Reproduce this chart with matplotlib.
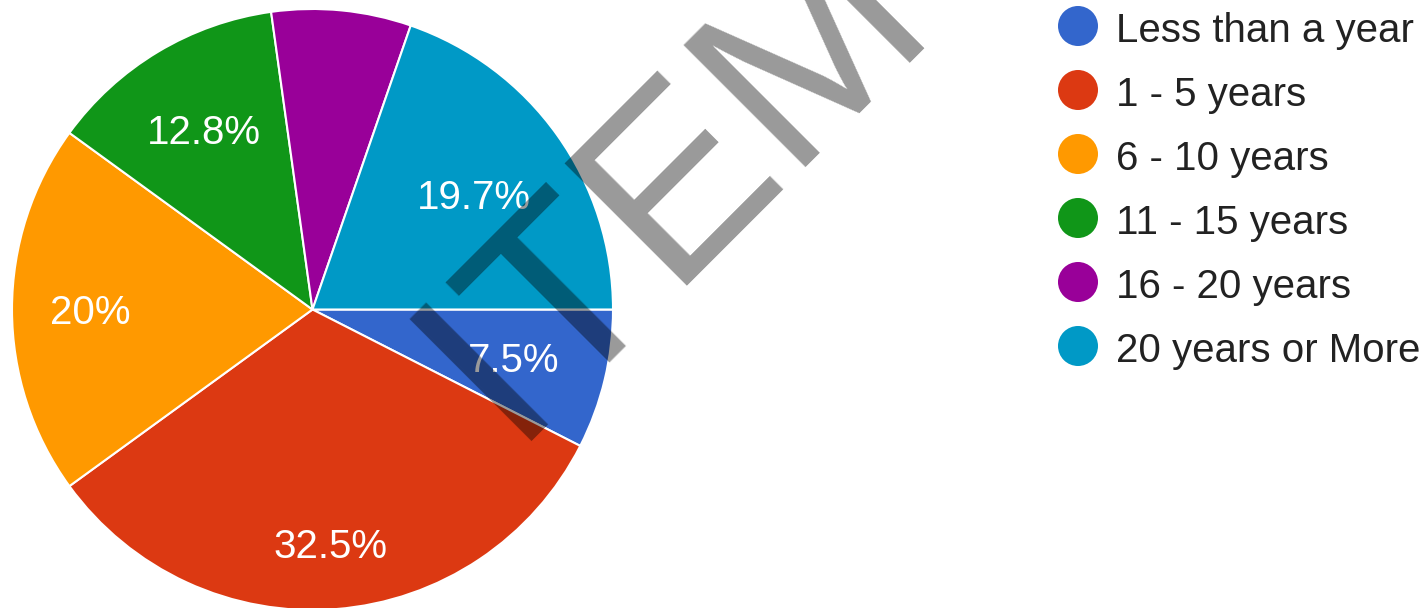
import matplotlib
matplotlib.use("Agg")
import matplotlib.pyplot as plt
import numpy as np

# ---- data ----
categories = ["Less than a year", "1 - 5 years", "6 - 10 years",
              "11 - 15 years", "16 - 20 years", "20 years or More"]
values = [7.5, 32.5, 20.0, 12.8, 7.5, 19.7]
show_label = [True, True, True, True, False, True]
watermark_text = "ITEM"

# ---- style ----
colors = ["#3366CC", "#DC3912", "#FF9900", "#109618", "#990099", "#0099C6"]
label_radius = [0.69, 0.78, 0.74, 0.70, 0.70, 0.66]
plt.rcParams['font.family'] = ['Liberation Sans', 'DejaVu Sans']

W, H = 1426, 608
fig = plt.figure(figsize=(W / 100, H / 100), dpi=100)
ax = fig.add_axes([0, 0, 1, 1])

cx, cy, R = 312.5, H - 309.5, 300.5
wedges, _ = ax.pie(values, colors=colors, startangle=0, counterclock=False,
                   center=(cx, cy), radius=R,
                   wedgeprops=dict(edgecolor="white", linewidth=1.5))
ax.set_xlim(0, W)
ax.set_ylim(0, H)
ax.set_aspect('equal')
ax.axis('off')

# slice labels
for w, v, show, rf in zip(wedges, values, show_label, label_radius):
    if not show:
        continue
    mid = np.deg2rad((w.theta1 + w.theta2) / 2)
    x = cx + R * rf * np.cos(mid)
    y = cy + R * rf * np.sin(mid)
    ax.text(x, y - 14.5, f"{v:g}%", color="white", fontsize=29,
            ha="center", va="baseline")

# legend
leg_x, leg_text_x = 1078, 1116
leg_y0, leg_dy = 26, 64
for i, (cat, col) in enumerate(zip(categories, colors)):
    yy = H - (leg_y0 + i * leg_dy)
    ax.scatter([leg_x], [yy], s=830, color=col, edgecolors="none")
    ax.text(leg_text_x, yy - 15.5, cat, fontsize=29, color="#222222",
            ha="left", va="baseline")

# watermark
ax.text(509, H - 441, watermark_text, fontsize=181, color="black", alpha=0.4,
        rotation=45, rotation_mode="anchor", ha="left", va="baseline",
        clip_on=False)

fig.savefig("out.png", dpi=100)
